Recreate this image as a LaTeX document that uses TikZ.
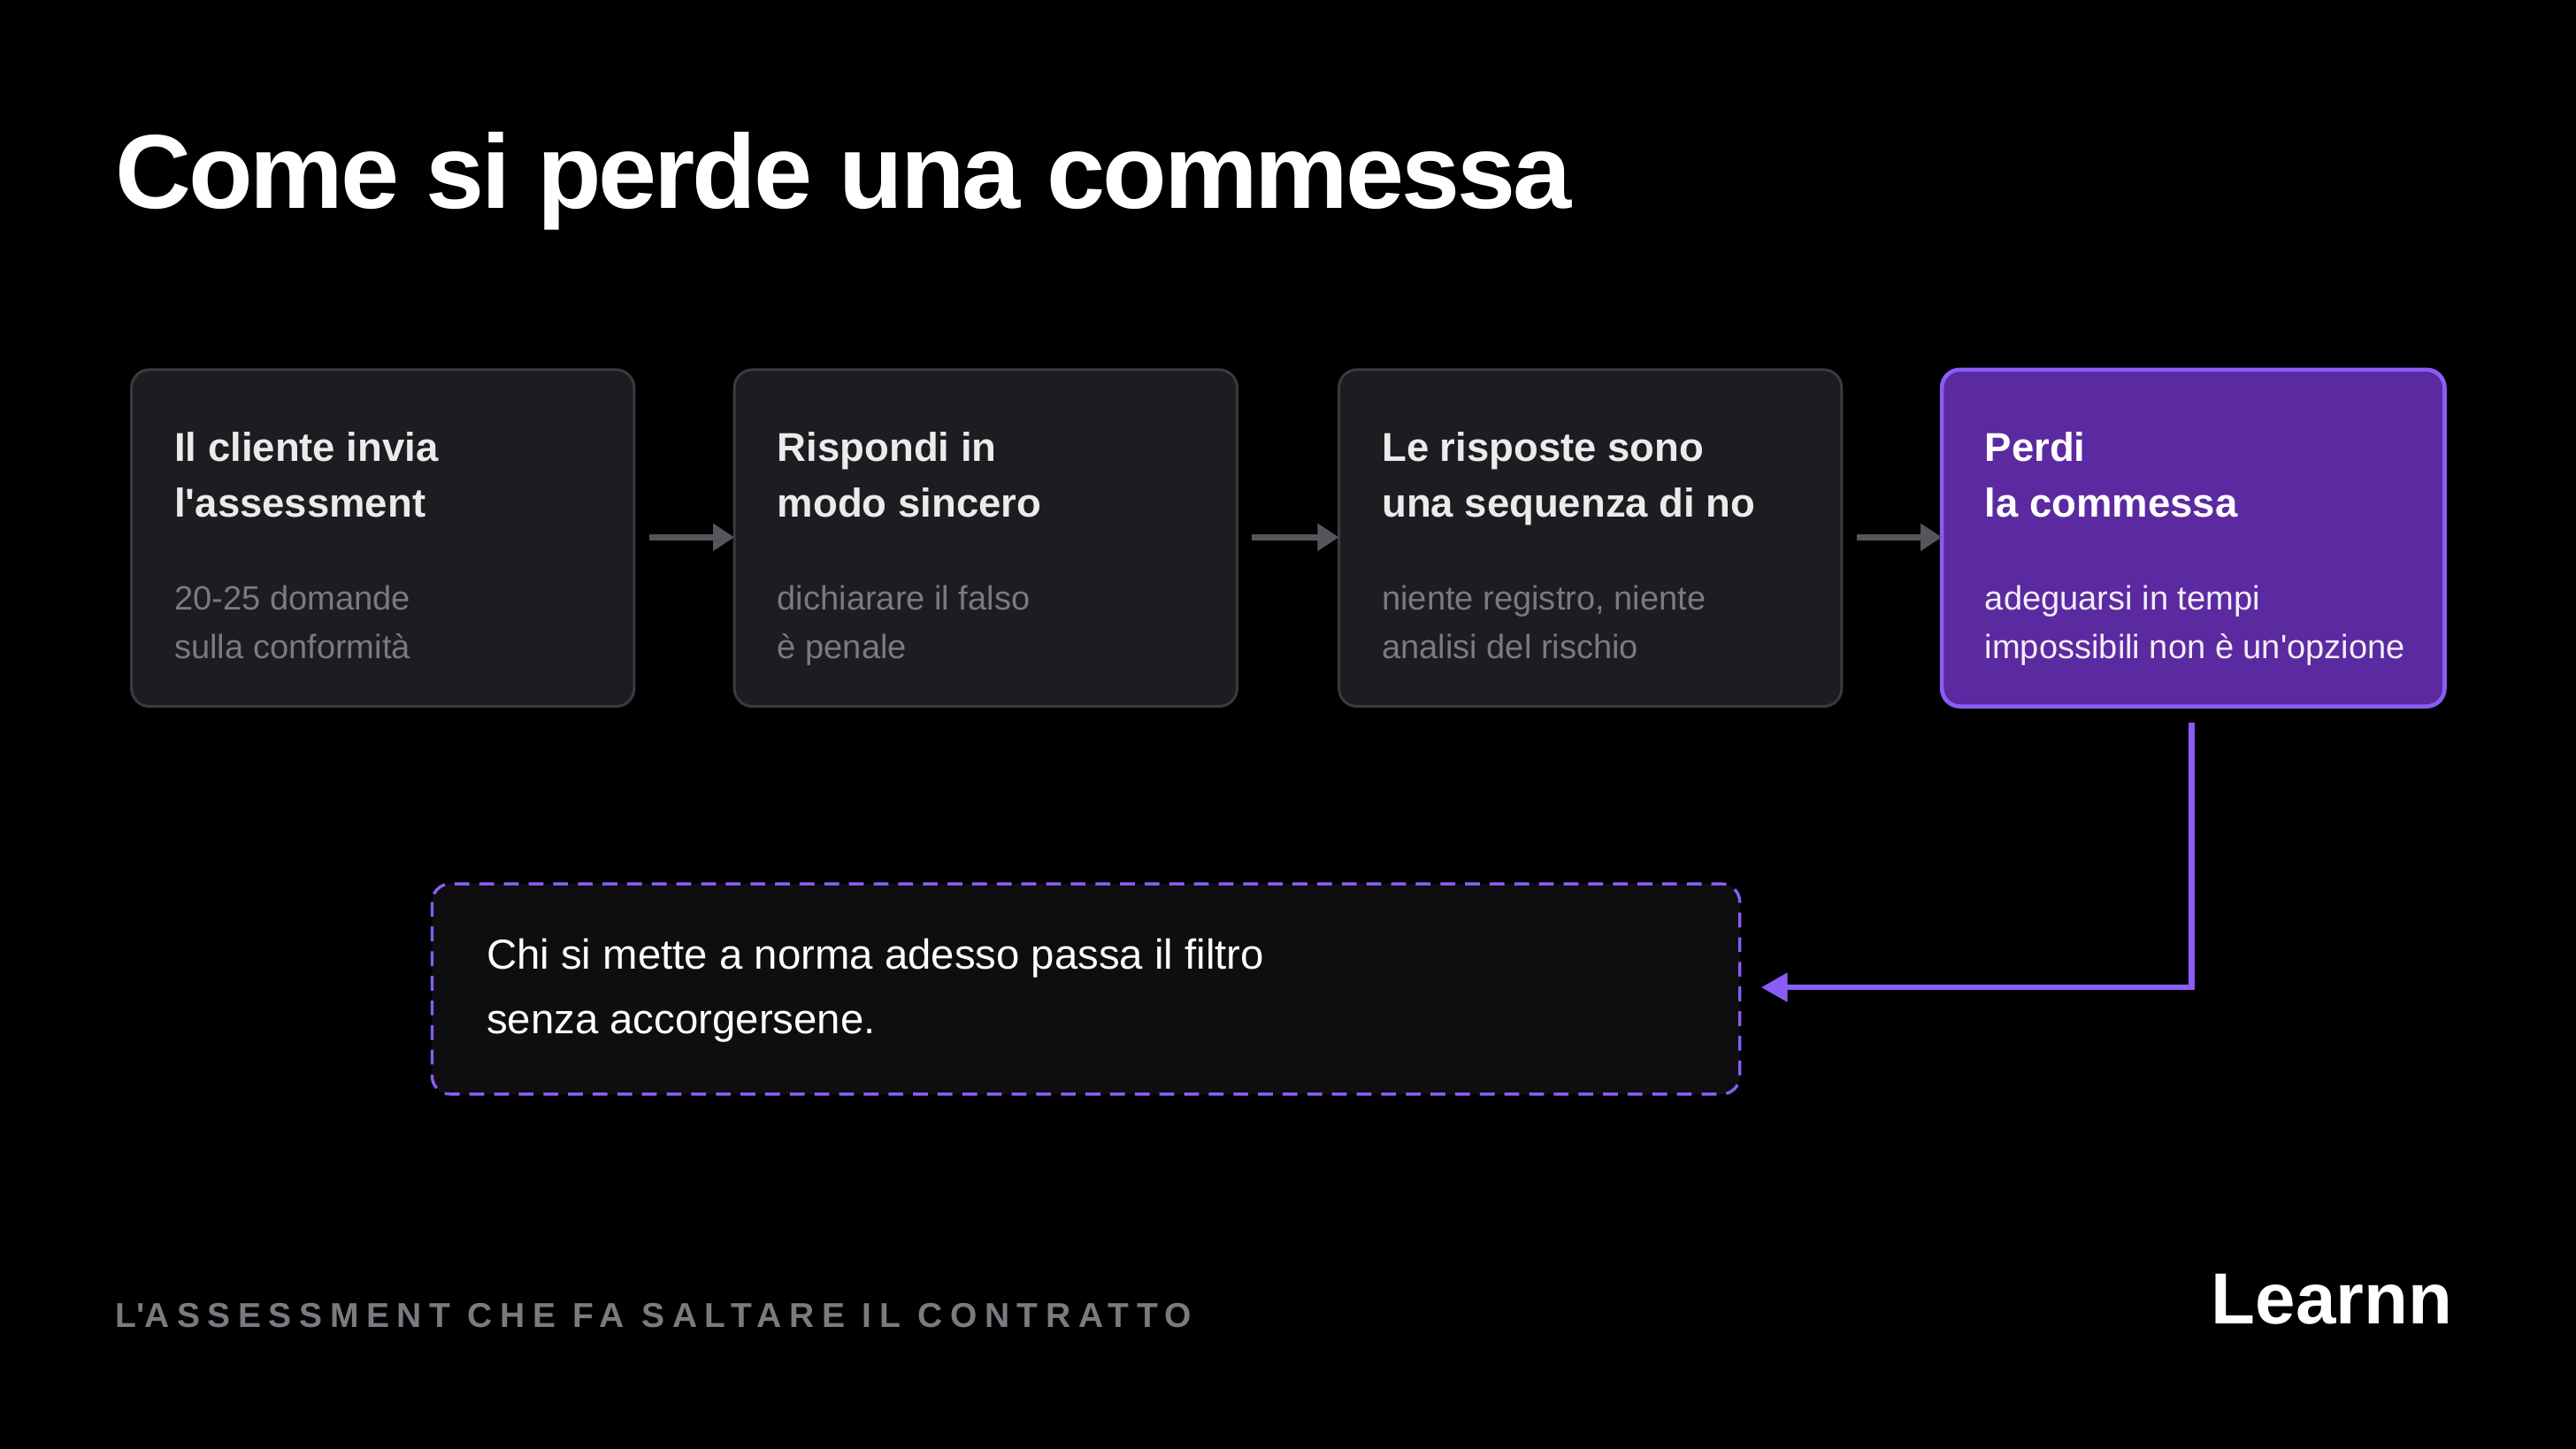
\documentclass[tikz,border=0pt]{standalone}
\usepackage{fontspec}
\setmainfont{Liberation Sans}[Ligatures=ResetAll]
\usetikzlibrary{arrows.meta}
\definecolor{bg}{HTML}{000000}
\definecolor{boxfill}{HTML}{1C1C21}
\definecolor{boxline}{HTML}{3A3A40}
\definecolor{subgray}{HTML}{7A7A80}
\definecolor{arrowgray}{HTML}{55555A}
\definecolor{purfill}{HTML}{5B2AA0}
\definecolor{purline}{HTML}{8B5CF6}
\definecolor{dashfill}{HTML}{0E0E11}
\newcommand{\ap}{\textquotesingle}
\begin{document}
\begin{tikzpicture}[x=1pt,y=-1pt,
  card/.style={draw=boxline,line width=1.6pt,fill=boxfill,rounded corners=11pt},
  hd/.style={anchor=base west,inner sep=0,font=\fontsize{24.5}{24.5}\selectfont\bfseries,text=white!92!black},
  sub/.style={anchor=base west,inner sep=0,font=\fontsize{20.5}{20.5}\selectfont,text=subgray},
  flow/.style={draw=arrowgray,line width=3.5pt,-{Triangle[length=13pt,width=16pt]}}]
\fill[bg] (0,0) rectangle (1568,882);
\node[anchor=base west,inner sep=0,font=\fontsize{64}{64}\selectfont\bfseries\addfontfeature{LetterSpace=-2.6},text=white] (title) at (70,127) {Come si perde una commessa};
% cards
\draw[card] (80,225) rectangle (386,430);
\draw[card] (447,225) rectangle (753,430);
\draw[card] (815,225) rectangle (1121,430);
\draw[draw=purline,line width=2.5pt,fill=purfill,rounded corners=11pt] (1182,225) rectangle (1488,430);
\coordinate (c1) at (386,327); \coordinate (c2w) at (447,327);
\coordinate (c2) at (753,327); \coordinate (c3w) at (815,327);
\coordinate (c3) at (1121,327); \coordinate (c4w) at (1182,327);
\node[hd] (h1a) at (106,281) {Il cliente invia};
\node[hd] (h1b) at (106,315) {l\ap assessment};
\node[sub] (s1a) at (106,371) {20-25 domande};
\node[sub] (s1b) at (106,401) {sulla conformità};
\node[hd] (h2a) at (473,281) {Rispondi in};
\node[hd] (h2b) at (473,315) {modo sincero};
\node[sub] (s2a) at (473,371) {dichiarare il falso};
\node[sub] (s2b) at (473,401) {è penale};
\node[hd] (h3a) at (841,281) {Le risposte sono};
\node[hd] (h3b) at (841,315) {una sequenza di no};
\node[sub] (s3a) at (841,371) {niente registro, niente};
\node[sub] (s3b) at (841,401) {analisi del rischio};
\node[hd,text=white] (h4a) at (1208,281) {Perdi};
\node[hd,text=white] (h4b) at (1208,315) {la commessa};
\node[sub,text=white!92!purfill] (s4a) at (1208,371) {adeguarsi in tempi};
\node[sub,text=white!92!purfill] (s4b) at (1208,401) {impossibili non è un\ap opzione};
\draw[flow] ([xshift=9pt]c1) -- (c2w);
\draw[flow] ([xshift=9pt]c2) -- (c3w);
\draw[flow] ([xshift=9pt]c3) -- (c4w);
% dashed box
\draw[draw=purline,line width=1.8pt,dash pattern=on 9pt off 6pt,fill=dashfill,rounded corners=11pt] (263,538) rectangle (1059,666);
\node[anchor=base west,inner sep=0,font=\fontsize{25.5}{25.5}\selectfont,text=white] (n1) at (296,590) {Chi si mette a norma adesso passa il filtro};
\node[anchor=base west,inner sep=0,font=\fontsize{25.5}{25.5}\selectfont,text=white] (n2) at (296,629) {senza accorgersene.};
\coordinate (p0) at (1334,440);
\coordinate (p1) at (1072,601);
\draw[draw=purline,line width=3.5pt,-{Triangle[length=16pt,width=17pt]}] (p0) |- (p1);
% footer
\node[anchor=base west,inner sep=0,font=\fontsize{21}{21}\selectfont\bfseries,text=subgray] (foot) at (70,808) {\addfontfeature{LetterSpace=22}L\ap ASSESSMENT CHE FA SALTARE IL CONTRATTO};
\node[anchor=base east,inner sep=0,font=\fontsize{44}{44}\selectfont\bfseries,text=white] (logo) at (1493,806) {Learnn};
\end{tikzpicture}
\end{document}
